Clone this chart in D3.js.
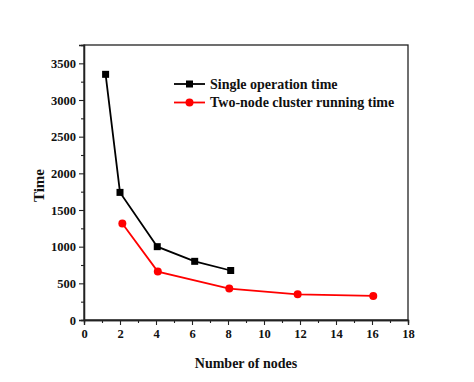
<!DOCTYPE html>
<html><head><meta charset="utf-8">
<script src="https://cdn.jsdelivr.net/npm/d3@7"></script>
<style>body{margin:0;background:#fff}
svg text{font-family:'Liberation Serif','Times New Roman',serif;font-weight:bold;fill:#111}</style>
</head><body><svg id="c" width="474" height="382"></svg>
<script>
const singleX = [1.2, 2.0, 4.07, 6.15, 8.15];
const singleY = [3350, 1740, 1000, 800, 675];
const clusterX = [2.13, 4.1, 8.07, 11.87, 16.07];
const clusterY = [1315, 660, 428, 350, 328];
const xTicks = [0, 2, 4, 6, 8, 10, 12, 14, 16, 18];
const yTicks = [0, 500, 1000, 1500, 2000, 2500, 3000, 3500];
const seriesNames = ["Single operation time", "Two-node cluster running time"];
const axisTitles = ["Number of nodes", "Time"];

const svg = d3.select("#c");
const L = 84, R = 408, T = 45, B = 320;
const x = d3.scaleLinear().domain([0, 18]).range([L, R]);
const y = d3.scaleLinear().domain([0, 3750]).range([B, T]);

svg.append("rect").attr("x", L).attr("y", T).attr("width", R - L).attr("height", B - T)
  .attr("fill", "none").attr("stroke", "#222").attr("stroke-width", 1.3);

const gx = svg.append("g").attr("transform", `translate(0,${B})`);
gx.call(d3.axisBottom(x).tickValues(d3.range(1, 18, 2)).tickSize(3).tickFormat(""));
const gx2 = svg.append("g").attr("transform", `translate(0,${B})`);
gx2.call(d3.axisBottom(x).tickValues(xTicks).tickSize(5).tickPadding(4).tickFormat(d3.format("d")));
const gy = svg.append("g").attr("transform", `translate(${L},0)`);
gy.call(d3.axisLeft(y).tickValues(d3.range(250, 3750, 500)).tickSize(3).tickFormat(""));
const gy2 = svg.append("g").attr("transform", `translate(${L},0)`);
gy2.call(d3.axisLeft(y).tickValues(yTicks).tickSize(5).tickPadding(3).tickFormat(d3.format("d")));
svg.selectAll(".domain").attr("stroke", "#222").attr("stroke-width", 1.3);
svg.selectAll(".tick line").attr("stroke", "#222").attr("stroke-width", 1.1);
[gx2, gy2].forEach(g => g.attr("font-size", 12).selectAll("text").style("font-size", "12.5px"));

svg.append("text").attr("x", (L + R) / 2).attr("y", 368).attr("text-anchor", "middle")
  .style("font-size", "14px").text(axisTitles[0]);
svg.append("text").attr("transform", `translate(44,${(T + B) / 2 + 3}) rotate(-90)`)
  .attr("text-anchor", "middle").style("font-size", "15px").text(axisTitles[1]);

const line = d3.line().x(d => x(d[0])).y(d => y(d[1]));
const s1 = singleX.map((v, i) => [v, singleY[i]]);
const s2 = clusterX.map((v, i) => [v, clusterY[i]]);

svg.append("path").datum(s1).attr("d", line).attr("fill", "none").attr("stroke", "#000").attr("stroke-width", 1.8);
svg.append("path").datum(s2).attr("d", line).attr("fill", "none").attr("stroke", "#f00").attr("stroke-width", 1.8);
svg.selectAll(".sq").data(s1).enter().append("rect")
  .attr("x", d => x(d[0]) - 3.5).attr("y", d => y(d[1]) - 3.5).attr("width", 7).attr("height", 7).attr("fill", "#000");
svg.selectAll(".ci").data(s2).enter().append("circle")
  .attr("cx", d => x(d[0])).attr("cy", d => y(d[1])).attr("r", 4).attr("fill", "#f00");

const lg = svg.append("g");
[0, 1].forEach(i => {
  const yy = 84 + i * 18.5;
  const col = i === 0 ? "#000" : "#f00";
  lg.append("line").attr("x1", 174).attr("x2", 205).attr("y1", yy).attr("y2", yy).attr("stroke", col).attr("stroke-width", 1.8);
  if (i === 0) lg.append("rect").attr("x", 186).attr("y", yy - 3.5).attr("width", 7).attr("height", 7).attr("fill", col);
  else lg.append("circle").attr("cx", 189.5).attr("cy", yy).attr("r", 4).attr("fill", col);
  lg.append("text").attr("x", 210).attr("y", yy + 4.5).style("font-size", "14px").text(seriesNames[i]);
});
</script></body></html>
